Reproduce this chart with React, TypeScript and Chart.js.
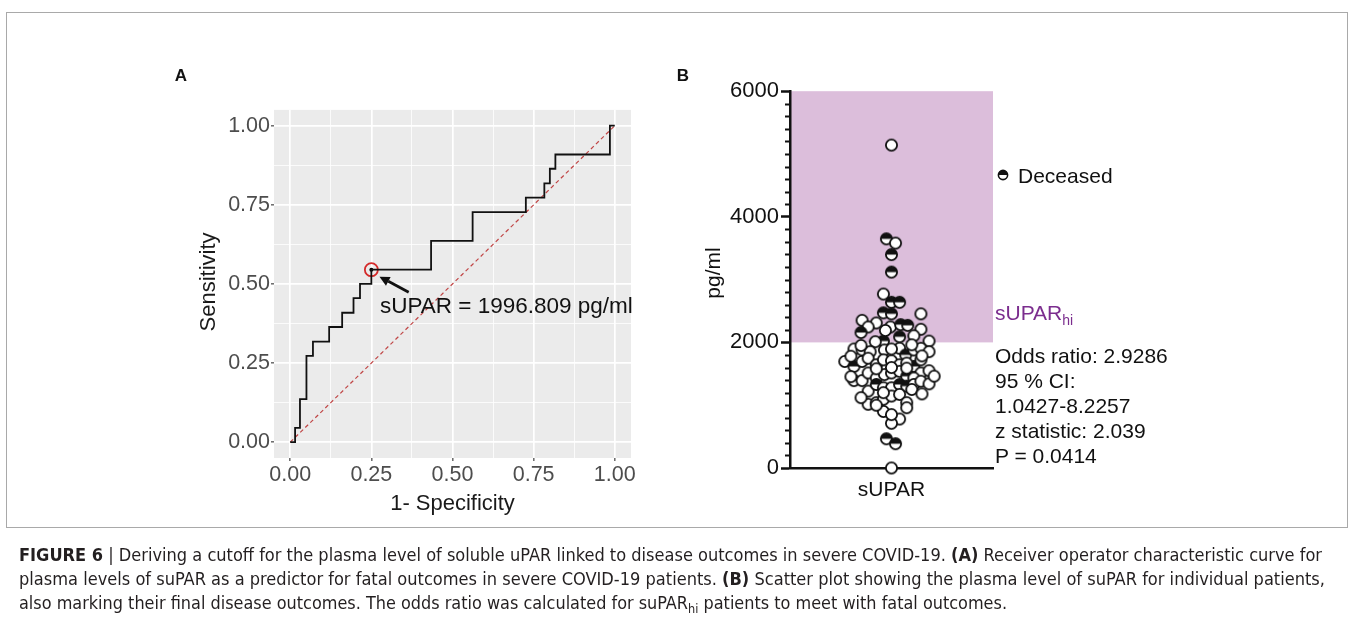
import React, { useEffect, useRef } from 'react';
import { Chart, registerables } from 'chart.js';

Chart.register(...registerables);

const FONT = '"Liberation Sans", Arial, Helvetica, sans-serif';

// ---------- Panel A: ROC curve (1 - specificity vs sensitivity) ----------
const rocFpr = [0, 0.015, 0.015, 0.03, 0.03, 0.05, 0.05, 0.07, 0.07, 0.12, 0.12, 0.16, 0.16, 0.195, 0.195, 0.215, 0.215, 0.25, 0.25, 0.434, 0.434, 0.562, 0.562, 0.726, 0.726, 0.783, 0.783, 0.8, 0.8, 0.817, 0.817, 0.985, 0.985, 1.0];
const rocTpr = [0, 0, 0.045, 0.045, 0.136, 0.136, 0.273, 0.273, 0.318, 0.318, 0.364, 0.364, 0.409, 0.409, 0.455, 0.455, 0.5, 0.5, 0.545, 0.545, 0.636, 0.636, 0.727, 0.727, 0.773, 0.773, 0.818, 0.818, 0.864, 0.864, 0.909, 0.909, 1.0, 1.0];
const chanceFpr = [0, 1];
const chanceTpr = [0, 1];
const cutoffFpr = 0.25;
const cutoffTpr = 0.545;
const arrowFrom = [0.365, 0.474];
const arrowTo = [0.275, 0.523];
const rocGridValues = [0, 0.125, 0.25, 0.375, 0.5, 0.625, 0.75, 0.875, 1];

// ---------- Panel B: suPAR beeswarm ----------
const suparValues = [5142, 3649, 3581, 3398, 3120, 2770, 2639, 2639, 2471, 2455, 2455, 2351, 2309, 2246, 2283, 2272, 2246, 2209, 2105, 2157, 2089, 2021, 2011, 2021, 1895, 1879, 1853, 1879, 1906, 1801, 1879, 1906, 1853, 1696, 1618, 1696, 1748, 1644, 1722, 1707, 1644, 1618, 1722, 1670, 1392, 1392, 1513, 1434, 1487, 1513, 1539, 1460, 1513, 1549, 1434, 1225, 1330, 1277, 1277, 1330, 1303, 1330, 1382, 1340, 1015, 1041, 1094, 1146, 1172, 1041, 900, 780, 712, 465, 387, 0, 1895, 1950, 1962, 1780, 1785, 1580, 1590, 1600, 1455, 1462, 1250, 1200, 1180, 1120, 960, 1000, 850, 2190];
const swarmOffset = [0, -5, 4, 0, 0, -8, 0, 8, -8, 0, 29, -29, -15, -1, 9, 16, -23, 29, 22, -30, 8, -8, -16, 37, -37, -29, -21, -7, 8, 14, 22, 29, 37, -46, -37, -29, -23, -15, -8, 0, 8, 22, 29, 15, -37, -29, -23, -15, -7, 0, 8, 15, 29, 37, 22, -23, -15, -8, 0, 8, 15, 22, 29, 37, -23, -15, -8, 0, 8, 15, -8, 8, 0, -5, 4, 0, 0, -30, 20, -40, 30, -15, 15, 0, -40, 42, 20, -8, 30, -30, 15, -15, 0, -6];
const deceased = [0, 1, 0, 1, 1, 0, 1, 1, 1, 1, 0, 0, 0, 0, 1, 1, 0, 0, 0, 1, 1, 1, 0, 0, 0, 0, 0, 0, 0, 1, 0, 0, 0, 0, 1, 0, 0, 0, 0, 0, 0, 1, 0, 0, 1, 0, 0, 0, 0, 0, 0, 1, 0, 0, 0, 0, 1, 0, 0, 1, 1, 0, 0, 0, 0, 0, 0, 0, 0, 0, 0, 0, 0, 1, 1, 0, 0, 0, 0, 0, 0, 0, 0, 0, 0, 0, 0, 0, 0, 0, 0, 0, 0, 0];
const hiThreshold = 2000;
const bMax = 6000;
const bMajorTicks = [0, 2000, 4000, 6000];
const bMinorStep = 200;

const isMajor = (v: number) => Math.abs(v * 4 - Math.round(v * 4)) < 1e-6;

function makeMarker(half: boolean) {
  const c = document.createElement('canvas');
  c.width = 15;
  c.height = 15;
  const g = c.getContext('2d')!;
  g.beginPath();
  g.arc(7.5, 7.5, 5.6, 0, Math.PI * 2);
  g.fillStyle = '#ffffff';
  g.fill();
  if (half) {
    g.beginPath();
    g.arc(7.5, 7.5, 5.6, Math.PI, Math.PI * 2);
    g.closePath();
    g.fillStyle = '#111111';
    g.fill();
  }
  g.beginPath();
  g.arc(7.5, 7.5, 5.6, 0, Math.PI * 2);
  g.lineWidth = 1.8;
  g.strokeStyle = '#111111';
  g.stroke();
  return c;
}

export default function App() {
  const aRef = useRef<HTMLCanvasElement>(null);
  const bRef = useRef<HTMLCanvasElement>(null);

  useEffect(() => {
    const panelBg = {
      id: 'panelBg',
      beforeDraw(chart: any) {
        const { ctx, chartArea: a } = chart;
        ctx.save();
        ctx.fillStyle = '#EBEBEB';
        ctx.fillRect(a.left, a.top, a.right - a.left, a.bottom - a.top);
        ctx.restore();
      },
    };
    const arrow = {
      id: 'arrow',
      afterDatasetsDraw(chart: any) {
        const { ctx } = chart;
        const xs = chart.scales.x;
        const ys = chart.scales.y;
        const x1 = xs.getPixelForValue(arrowFrom[0]);
        const y1 = ys.getPixelForValue(arrowFrom[1]);
        const x2 = xs.getPixelForValue(arrowTo[0]);
        const y2 = ys.getPixelForValue(arrowTo[1]);
        const ang = Math.atan2(y2 - y1, x2 - x1);
        const hl = 10;
        const hw = 5;
        const bx = x2 - hl * Math.cos(ang);
        const by = y2 - hl * Math.sin(ang);
        ctx.save();
        ctx.strokeStyle = '#111';
        ctx.fillStyle = '#111';
        ctx.lineWidth = 2.8;
        ctx.beginPath();
        ctx.moveTo(x1, y1);
        ctx.lineTo(bx, by);
        ctx.stroke();
        ctx.beginPath();
        ctx.moveTo(x2, y2);
        ctx.lineTo(bx + hw * Math.sin(ang), by - hw * Math.cos(ang));
        ctx.lineTo(bx - hw * Math.sin(ang), by + hw * Math.cos(ang));
        ctx.closePath();
        ctx.fill();
        ctx.restore();
      },
    };

    const tickFontA = { family: FONT, size: 21.5 };
    const axisA = (fit: (s: any) => void) => ({
      type: 'linear' as const,
      min: -0.05,
      max: 1.05,
      afterBuildTicks: (s: any) => {
        s.ticks = rocGridValues.map((v) => ({ value: v }));
      },
      afterFit: fit,
      ticks: {
        autoSkip: false,
        maxRotation: 0,
        padding: 1,
        color: '#4d4d4d',
        font: tickFontA,
        callback: (v: any) => (isMajor(Number(v)) ? Number(v).toFixed(2) : ''),
      },
      grid: {
        color: '#ffffff',
        lineWidth: (c: any) => (c.tick && isMajor(c.tick.value) ? 1.7 : 0.8),
        tickLength: 3,
        tickWidth: 1.1,
        tickColor: (c: any) => (c.tick && isMajor(c.tick.value) ? '#333333' : 'rgba(0,0,0,0)'),
      },
      border: { display: false },
    });

    const chartA = new Chart(aRef.current!, {
      type: 'scatter',
      data: {
        datasets: [
          {
            data: rocFpr.map((x, i) => ({ x, y: rocTpr[i] })),
            showLine: true,
            borderColor: '#111111',
            borderWidth: 1.8,
            pointRadius: 0,
            clip: false,
          },
          {
            data: [{ x: cutoffFpr, y: cutoffTpr }],
            pointRadius: 2,
            pointBackgroundColor: '#000',
            pointBorderWidth: 0,
          },
          {
            data: [{ x: cutoffFpr, y: cutoffTpr }],
            pointRadius: 6.5,
            pointBorderColor: '#d42a2a',
            pointBorderWidth: 1.8,
            pointBackgroundColor: 'rgba(0,0,0,0)',
          },
          {
            data: chanceFpr.map((x, i) => ({ x, y: chanceTpr[i] })),
            showLine: true,
            borderColor: 'rgba(185,40,40,0.85)',
            borderWidth: 1.2,
            borderDash: [4, 3],
            pointRadius: 0,
          },
        ],
      } as any,
      options: {
        animation: false,
        responsive: false,
        events: [],
        layout: { padding: { top: 10, right: 19, left: 0, bottom: 0 } },
        plugins: { legend: { display: false }, tooltip: { enabled: false } },
        scales: {
          x: axisA((s: any) => {
            s.height = 38;
          }),
          y: axisA((s: any) => {
            s.width = 94;
          }),
        },
      } as any,
      plugins: [panelBg, arrow],
    });

    const openImg = makeMarker(false);
    const halfImg = makeMarker(true);

    const hiBand = {
      id: 'hiBand',
      beforeDraw(chart: any) {
        const { ctx, chartArea: a } = chart;
        const ys = chart.scales.y;
        const top = ys.getPixelForValue(bMax);
        const bottom = ys.getPixelForValue(hiThreshold);
        ctx.save();
        ctx.fillStyle = '#dcbedb';
        ctx.fillRect(a.left, top, a.right - a.left, bottom - top);
        ctx.restore();
      },
      afterDraw(chart: any) {
        const { ctx, chartArea: a } = chart;
        const ys = chart.scales.y;
        ctx.save();
        ctx.strokeStyle = '#111';
        ctx.lineWidth = 2;
        for (let v = bMinorStep; v < bMax; v += bMinorStep) {
          if (v % 2000 === 0) continue;
          const y = Math.round(ys.getPixelForValue(v)) + 0.5;
          ctx.beginPath();
          ctx.moveTo(a.left - 5, y);
          ctx.lineTo(a.left, y);
          ctx.stroke();
        }
        ctx.restore();
      },
    };

    const tickFontB = { family: FONT, size: 22 };
    const chartB = new Chart(bRef.current!, {
      type: 'scatter',
      data: {
        datasets: [
          {
            data: suparValues.map((v, i) => ({ x: swarmOffset[i], y: v })),
            pointStyle: (c: any) => (deceased[c.dataIndex] ? halfImg : openImg),
            pointRadius: 6,
            clip: false,
          },
        ],
      } as any,
      options: {
        animation: false,
        responsive: false,
        events: [],
        layout: { padding: { top: 10, right: 17, left: 0, bottom: 0 } },
        plugins: { legend: { display: false }, tooltip: { enabled: false } },
        scales: {
          x: {
            type: 'linear',
            min: -100,
            max: 100,
            afterBuildTicks: (s: any) => {
              s.ticks = [{ value: 0 }];
            },
            afterFit: (s: any) => {
              s.height = 48;
            },
            ticks: { color: '#111', font: { family: FONT, size: 21 }, padding: 10, callback: () => 'sUPAR' },
            grid: { drawOnChartArea: false, drawTicks: false },
            border: { display: true, color: '#111', width: 2.5 },
          },
          y: {
            type: 'linear',
            min: 0,
            max: bMax,
            afterBuildTicks: (s: any) => {
              s.ticks = bMajorTicks.map((v) => ({ value: v }));
            },
            afterFit: (s: any) => {
              s.width = 100;
            },
            ticks: { color: '#111', font: tickFontB, padding: 2, callback: (v: any) => String(v) },
            grid: { drawOnChartArea: false, tickLength: 9, tickWidth: 2.5, tickColor: '#111' },
            border: { display: true, color: '#111', width: 2.5 },
          },
        },
      } as any,
      plugins: [hiBand],
    });

    return () => {
      chartA.destroy();
      chartB.destroy();
    };
  }, []);

  const txt = { fontFamily: FONT } as React.CSSProperties;

  return (
    <div
      style={{
        position: 'absolute',
        left: 0,
        top: 0,
        width: 1354,
        height: 625,
        background: '#ffffff',
        overflow: 'hidden',
      }}
    >
      <div
        style={{
          position: 'absolute',
          left: 6,
          top: 12,
          width: 1342,
          height: 516,
          border: '1px solid #a9a9a9',
          boxSizing: 'border-box',
        }}
      />
      <canvas ref={aRef} width={470} height={400} style={{ position: 'absolute', left: 180, top: 96, width: 470, height: 400 }} />
      <canvas ref={bRef} width={320} height={440} style={{ position: 'absolute', left: 690, top: 76, width: 320, height: 440 }} />
      <svg width={1354} height={625} style={{ position: 'absolute', left: 0, top: 0, pointerEvents: 'none' }}>
        <g style={txt}>
          <text x={181} y={81} fontSize={17} fontWeight="bold" textAnchor="middle" fill="#111">A</text>
          <text x={683} y={81} fontSize={17} fontWeight="bold" textAnchor="middle" fill="#111">B</text>

          <text transform="translate(215,282) rotate(-90)" fontSize={22} textAnchor="middle" fill="#1a1a1a">Sensitivity</text>
          <text x={452.5} y={510} fontSize={22} textAnchor="middle" fill="#1a1a1a">1- Specificity</text>
          <text x={380} y={313} fontSize={22.5} fill="#111">sUPAR = 1996.809 pg/ml</text>

          <text transform="translate(720,273) rotate(-90)" fontSize={21} textAnchor="middle" fill="#111">pg/ml</text>
          <circle cx={1003} cy={175} r={4.6} fill="#fff" stroke="#111" strokeWidth={1.6} />
          <path d="M 998.4 175 A 4.6 4.6 0 0 1 1007.6 175 Z" fill="#111" />
          <text x={1018} y={183} fontSize={21} fill="#111">Deceased</text>
          <text x={995} y={320} fontSize={21} fill="#7b2d8e">
            sUPAR<tspan fontSize={14} dy={5}>hi</tspan>
          </text>
          <text x={995} y={363} fontSize={21} fill="#111">Odds ratio: 2.9286</text>
          <text x={995} y={388} fontSize={21} fill="#111">95 % CI:</text>
          <text x={995} y={413} fontSize={21} fill="#111">1.0427-8.2257</text>
          <text x={995} y={438} fontSize={21} fill="#111">z statistic: 2.039</text>
          <text x={995} y={463} fontSize={21} fill="#111">P = 0.0414</text>
        </g>
        <g style={{ fontFamily: '"Liberation Sans Narrow", "DejaVu Sans Condensed", "Liberation Sans", sans-serif' }} fill="#231f20" fontSize={17}>
          <text x={19} y={561} textLength={1303} lengthAdjust="spacingAndGlyphs">
            <tspan fontWeight="bold">FIGURE 6</tspan> | Deriving a cutoff for the plasma level of soluble uPAR linked to disease outcomes in severe COVID-19. <tspan fontWeight="bold">(A)</tspan> Receiver operator characteristic curve for
          </text>
          <text x={19} y={585} textLength={1306} lengthAdjust="spacingAndGlyphs">
            plasma levels of suPAR as a predictor for fatal outcomes in severe COVID-19 patients. <tspan fontWeight="bold">(B)</tspan> Scatter plot showing the plasma level of suPAR for individual patients,
          </text>
          <text x={19} y={609} textLength={988} lengthAdjust="spacingAndGlyphs">
            also marking their final disease outcomes. The odds ratio was calculated for suPAR<tspan fontSize={12} dy={4}>hi</tspan><tspan dy={-4}> patients to meet with fatal outcomes.</tspan>
          </text>
        </g>
      </svg>
    </div>
  );
}
